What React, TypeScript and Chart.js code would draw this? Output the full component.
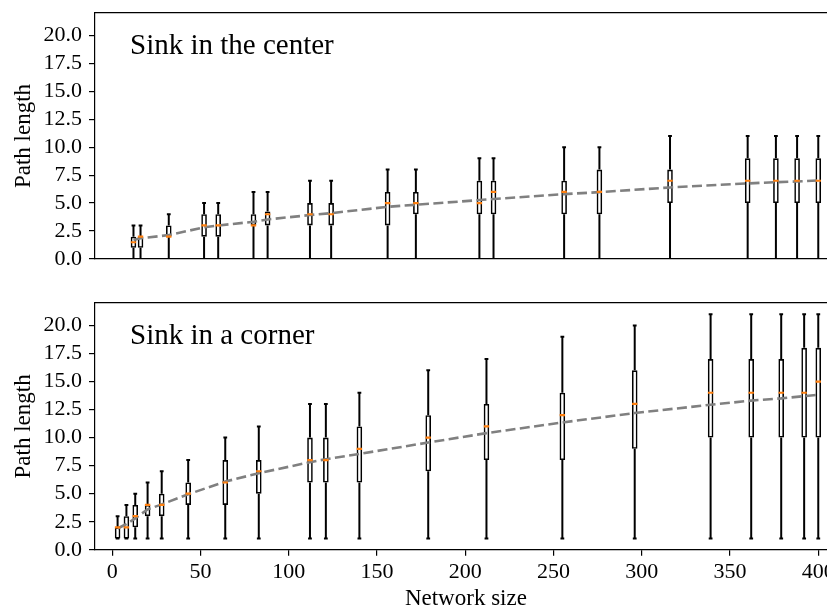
import React, { useEffect, useRef } from "react";
import { Chart, registerables } from "chart.js";

Chart.register(...registerables);

const FONT = "'Liberation Serif', 'DejaVu Serif', serif";

// ---- Top panel: sink in the center ----
const topX = [12, 16, 32, 52, 60, 80, 88, 112, 124, 156, 172, 208, 216, 256, 276, 316, 360, 376, 388, 400];
const topMin = [0, 0, 0, 0, 0, 0, 0, 0, 0, 0, 0, 0, 0, 0, 0, 0, 0, 0, 0, 0];
const topQ1 = [1, 1, 2, 2, 2, 3, 3, 3, 3, 3, 4, 4, 4, 4, 4, 5, 5, 5, 5, 5];
const topMedian = [1.5, 2, 2, 3, 3, 3, 4, 4, 4, 5, 5, 5, 6, 6, 6, 7, 7, 7, 7, 7];
const topQ3 = [2, 2, 3, 4, 4, 4, 4.25, 5, 5, 6, 6, 7, 7, 7, 8, 8, 9, 9, 9, 9];
const topMax = [3, 3, 4, 5, 5, 6, 6, 7, 7, 8, 8, 9, 9, 10, 10, 11, 11, 11, 11, 11];
const topFit = [1.7, 1.85, 2.14, 2.83, 3.0, 3.33, 3.54, 3.93, 4.1, 4.67, 4.85, 5.27, 5.36, 5.8, 5.98, 6.4, 6.76, 6.87, 6.93, 7.02];

// ---- Bottom panel: sink in a corner ----
const botX = [3, 8, 13, 20, 28, 43, 64, 83, 112, 121, 140, 179, 212, 255, 296, 339, 362, 379, 392, 400];
const botMin = [1, 1, 1, 1, 1, 1, 1, 1, 1, 1, 1, 1, 1, 1, 1, 1, 1, 1, 1, 1];
const botQ1 = [1, 1, 2, 3, 3, 4, 4, 5, 6, 6, 6, 7, 8, 8, 9, 10, 10, 10, 10, 10];
const botMedian = [2, 2, 3, 4, 4, 5, 6, 7, 8, 8, 9, 10, 11, 12, 13, 14, 14, 14, 14, 15];
const botQ3 = [2, 3, 4, 4, 5, 6, 8, 8, 10, 10, 11, 12, 13, 14, 16, 17, 17, 17, 18, 18];
const botMax = [3, 4, 5, 6, 7, 8, 10, 11, 13, 13, 14, 16, 17, 19, 20, 21, 21, 21, 21, 21];
const botFit = [1.9, 2.3, 2.8, 3.6, 4.05, 4.95, 6.08, 6.83, 7.81, 8.08, 8.55, 9.56, 10.4, 11.35, 12.19, 12.93, 13.3, 13.5, 13.7, 13.82];

const xTicks = [0, 50, 100, 150, 200, 250, 300, 350, 400];
const yTicks = [0, 2.5, 5, 7.5, 10, 12.5, 15, 17.5, 20];

const X_MIN = -9.8;
const X_MAX = 410.5;
const Y_MIN = 0;
const Y_MAX = 22;

const CANVAS_W = 860;

const panelLabelPlugin = {
  id: "panelLabel",
  afterDraw(chart: any, _args: any, opts: any) {
    const { ctx, chartArea } = chart;
    ctx.save();
    ctx.font = `${opts.size}px ${FONT}`;
    ctx.fillStyle = "#000";
    ctx.textBaseline = "alphabetic";
    ctx.textAlign = "left";
    ctx.fillText(opts.text, chartArea.left + opts.dx, chartArea.top + opts.dy);
    ctx.restore();
  },
};

function buildDatasets(
  xs: number[],
  mins: number[],
  q1s: number[],
  meds: number[],
  q3s: number[],
  maxs: number[],
  fit: number[]
): any[] {
  return [
    {
      type: "line",
      label: "median",
      data: xs.map((x, i) => ({ x, y: meds[i] })),
      showLine: false,
      pointStyle: "line",
      pointRadius: 2.7,
      pointHoverRadius: 2.7,
      pointBorderColor: "#ff7f0e",
      pointBackgroundColor: "#ff7f0e",
      pointBorderWidth: 2.2,
      order: 0,
    },
    {
      type: "line",
      label: "fit",
      data: xs.map((x, i) => ({ x, y: fit[i] })),
      borderColor: "#808080",
      borderWidth: 2.6,
      borderDash: [10, 4.4],
      pointRadius: 0,
      pointHoverRadius: 0,
      fill: false,
      tension: 0,
      order: 1,
    },
    {
      type: "bar",
      label: "box",
      data: xs.map((x, i) => ({ x, y: [q1s[i], q3s[i]] })),
      barThickness: 5.6,
      backgroundColor: "rgba(0,0,0,0)",
      borderColor: "#000",
      borderWidth: 1.6,
      borderSkipped: false,
      inflateAmount: 0,
      grouped: false,
      order: 2,
    },
    {
      type: "bar",
      label: "whiskerLow",
      data: xs.map((x, i) => ({ x, y: [mins[i], q1s[i]] })),
      barThickness: 2,
      backgroundColor: "#000",
      borderWidth: 0,
      inflateAmount: 0,
      grouped: false,
      order: 3,
    },
    {
      type: "bar",
      label: "whiskerHigh",
      data: xs.map((x, i) => ({ x, y: [q3s[i], maxs[i]] })),
      barThickness: 2,
      backgroundColor: "#000",
      borderWidth: 0,
      inflateAmount: 0,
      grouped: false,
      order: 3,
    },
    {
      type: "line",
      label: "caps",
      data: [
        ...xs.map((x, i) => ({ x, y: mins[i] })),
        ...xs.map((x, i) => ({ x, y: maxs[i] })),
      ],
      showLine: false,
      pointStyle: "line",
      pointRadius: 1.9,
      pointHoverRadius: 1.9,
      pointBorderColor: "#000",
      pointBackgroundColor: "#000",
      pointBorderWidth: 2,
      order: 3,
    },
  ];
}

function makeConfig(opts: {
  datasets: any[];
  label: string;
  showXTicks: boolean;
  xAxisHeight: number;
}): any {
  const tickFont = { family: FONT, size: 22 };
  const titleFont = { family: FONT, size: 23, lineHeight: 1 };
  return {
    type: "bar",
    data: { datasets: opts.datasets },
    plugins: [panelLabelPlugin],
    options: {
      responsive: false,
      animation: false,
      devicePixelRatio: 1,
      events: [],
      layout: { padding: { top: 13, right: CANVAS_W - 836.8, left: 0, bottom: 0 } },
      plugins: {
        legend: { display: false },
        tooltip: { enabled: false },
        panelLabel: { text: opts.label, size: 29, dx: 35, dy: 41 },
      },
      scales: {
        x: {
          type: "linear",
          position: "bottom",
          min: X_MIN,
          max: X_MAX,
          offset: false,
          afterBuildTicks: (s: any) => {
            s.ticks = xTicks.map((v) => ({ value: v }));
          },
          afterFit: (s: any) => {
            s.height = opts.xAxisHeight;
            s.paddingLeft = 0;
            s.paddingRight = 0;
          },
          ticks: {
            display: opts.showXTicks,
            font: tickFont,
            color: "#000",
            padding: 3,
            maxRotation: 0,
            autoSkip: false,
            callback: (v: any) => String(v),
          },
          grid: {
            display: opts.showXTicks,
            drawOnChartArea: false,
            drawTicks: opts.showXTicks,
            tickLength: 6,
            color: "#000",
            lineWidth: 1.2,
            offset: false,
          },
          border: { display: true, color: "#000", width: 1.2 },
          title: {
            display: opts.showXTicks,
            text: "Network size",
            font: titleFont,
            color: "#000",
            padding: { top: 0, bottom: 0 },
          },
        },
        xTop: {
          type: "linear",
          position: "top",
          min: 0,
          max: 1,
          ticks: { display: false },
          grid: { display: false, drawTicks: false },
          border: { display: true, color: "#000", width: 1.2 },
          afterFit: (s: any) => {
            s.height = 0;
            s.paddingLeft = 0;
            s.paddingRight = 0;
          },
        },
        y: {
          type: "linear",
          position: "left",
          min: Y_MIN,
          max: Y_MAX,
          afterBuildTicks: (s: any) => {
            s.ticks = yTicks.map((v) => ({ value: v }));
          },
          afterFit: (s: any) => {
            s.width = 95;
            s.paddingTop = 0;
            s.paddingBottom = 0;
          },
          ticks: {
            font: tickFont,
            color: "#000",
            padding: 7,
            autoSkip: false,
            callback: (v: any) => Number(v).toFixed(1),
          },
          grid: {
            display: true,
            drawOnChartArea: false,
            drawTicks: true,
            tickLength: 6,
            color: "#000",
            lineWidth: 1.2,
          },
          border: { display: true, color: "#000", width: 1.2 },
          title: {
            display: true,
            text: "Path length",
            font: titleFont,
            color: "#000",
            padding: { top: 12.5, bottom: 0 },
          },
        },
      },
    },
  };
}

export default function App() {
  const topRef = useRef<HTMLCanvasElement | null>(null);
  const botRef = useRef<HTMLCanvasElement | null>(null);

  useEffect(() => {
    if (!topRef.current || !botRef.current) return;
    const c1 = new Chart(
      topRef.current,
      makeConfig({
        datasets: buildDatasets(topX, topMin, topQ1, topMedian, topQ3, topMax, topFit),
        label: "Sink in the center",
        showXTicks: false,
        xAxisHeight: 31,
      })
    );
    const c2 = new Chart(
      botRef.current,
      makeConfig({
        datasets: buildDatasets(botX, botMin, botQ1, botMedian, botQ3, botMax, botFit),
        label: "Sink in a corner",
        showXTicks: true,
        xAxisHeight: 60.2,
      })
    );
    return () => {
      c1.destroy();
      c2.destroy();
    };
  }, []);

  return (
    <div
      style={{
        position: "fixed",
        left: 0,
        top: 0,
        width: 827,
        height: 610,
        overflow: "hidden",
        background: "#fff",
      }}
    >
      <canvas
        ref={topRef}
        width={CANVAS_W}
        height={290}
        style={{ position: "absolute", left: 0, top: 0, width: CANVAS_W, height: 290 }}
      />
      <canvas
        ref={botRef}
        width={CANVAS_W}
        height={320}
        style={{ position: "absolute", left: 0, top: 290, width: CANVAS_W, height: 320 }}
      />
    </div>
  );
}
